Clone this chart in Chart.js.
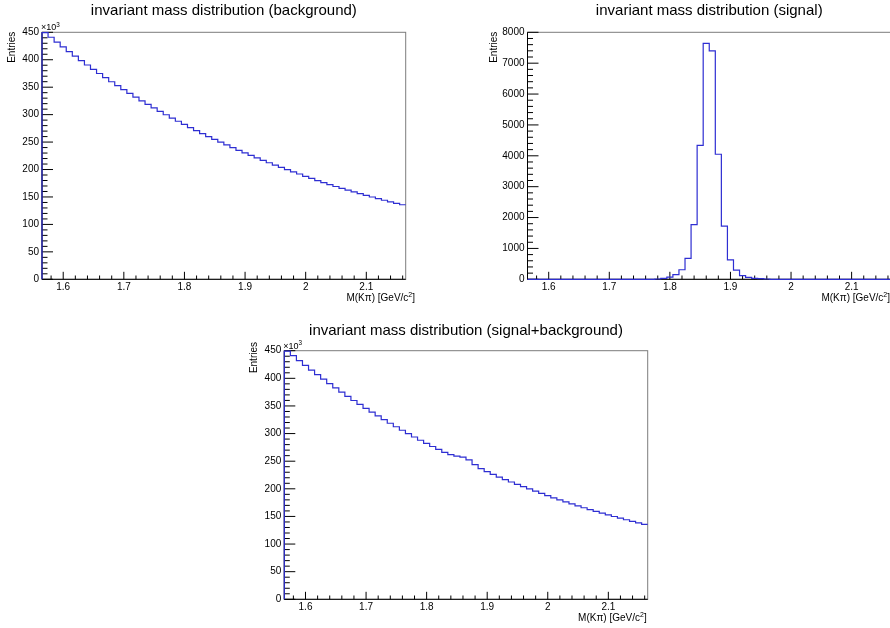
<!DOCTYPE html>
<html>
<head>
<meta charset="utf-8">
<title>invariant mass distribution</title>
<script src="https://cdn.jsdelivr.net/npm/chart.js@4.4.1/dist/chart.umd.min.js"></script>
<style>
  html, body { margin: 0; padding: 0; background: #fff; overflow: hidden; }
  body { width: 890px; height: 628px; position: relative; }
  .pad { position: absolute; }
</style>
</head>
<body>
<div class="pad" style="left:0;top:0;width:445px;height:310px"><canvas id="bgChart"></canvas></div>
<div class="pad" style="left:445px;top:0;width:450px;height:310px"><canvas id="sigChart"></canvas></div>
<div class="pad" style="left:230px;top:315px;width:440px;height:313px"><canvas id="sumChart"></canvas></div>

<script>
// bin centres of M(Kpi), 0.01 GeV/c^2 wide bins
const binCenters = [
    1.57, 1.58, 1.59, 1.60, 1.61, 1.62, 1.63, 1.64, 1.65, 1.66,
    1.67, 1.68, 1.69, 1.70, 1.71, 1.72, 1.73, 1.74, 1.75, 1.76,
    1.77, 1.78, 1.79, 1.80, 1.81, 1.82, 1.83, 1.84, 1.85, 1.86,
    1.87, 1.88, 1.89, 1.90, 1.91, 1.92, 1.93, 1.94, 1.95, 1.96,
    1.97, 1.98, 1.99, 2.00, 2.01, 2.02, 2.03, 2.04, 2.05, 2.06,
    2.07, 2.08, 2.09, 2.10, 2.11, 2.12, 2.13, 2.14, 2.15, 2.16
];

const background = [
    449400, 441000, 432100, 423400, 414900, 406600, 398400, 390400, 382600, 374900,
    367300, 359900, 352700, 345600, 338700, 331900, 325200, 318700, 312300, 306000,
    299800, 293800, 287900, 282100, 276400, 270900, 265400, 260100, 254900, 249800,
    244800, 239800, 235000, 230300, 225700, 221100, 216700, 212300, 208100, 203900,
    199800, 195800, 191800, 187600, 183700, 179900, 176200, 172600, 169100, 165700,
    162400, 159200, 156000, 152900, 149900, 146900, 144000, 141200, 138500, 135800
];

const signal = [
    0, 0, 0, 0, 0, 0, 0, 0, 0, 0,
    0, 0, 0, 0, 0, 0, 0, 0, 0, 0,
    0, 10, 30, 70, 150, 310, 680, 1770, 4340, 7640,
    7400, 4050, 1720, 630, 300, 120, 60, 30, 20, 10,
    0, 0, 0, 0, 0, 0, 0, 0, 0, 0,
    0, 0, 0, 0, 0, 0, 0, 0, 0, 0
];

const signalPlusBackground = [
    449400, 441000, 432100, 423400, 414900, 406600, 398400, 390400, 382600, 374900,
    367300, 359900, 352700, 345600, 338700, 331900, 325200, 318700, 312300, 306000,
    299800, 293810, 287930, 282170, 276550, 271210, 266080, 261870, 259240, 257440,
    252200, 243850, 236720, 230930, 226000, 221220, 216760, 212330, 208120, 203910,
    199800, 195800, 191800, 187600, 183700, 179900, 176200, 172600, 169100, 165700,
    162400, 159200, 156000, 152900, 149900, 146900, 144000, 141200, 138500, 135800
];

const massTicks = [1.6, 1.7, 1.8, 1.9, 2.0, 2.1];
const massTickLabels = ['1.6', '1.7', '1.8', '1.9', '2', '2.1'];
const entriesTicks = [0, 50000, 100000, 150000, 200000, 250000, 300000, 350000, 400000, 450000];
const entriesTickLabels = ['0', '50', '100', '150', '200', '250', '300', '350', '400', '450'];
const signalTicks = [0, 1000, 2000, 3000, 4000, 5000, 6000, 7000, 8000];
const signalTickLabels = ['0', '1000', '2000', '3000', '4000', '5000', '6000', '7000', '8000'];

const binWidth = 0.01;
const FONT = '"Liberation Sans", Arial, Helvetica, sans-serif';

// histogram outline: up from zero at the first edge, then step through the bins
const toSteps = (values) => {
    const pts = [{ x: binCenters[0] - binWidth / 2, y: 0 }];
    values.forEach((v, i) => {
        pts.push({ x: binCenters[i] - binWidth / 2, y: v });
        pts.push({ x: binCenters[i] + binWidth / 2, y: v });
    });
    return pts;
};

// text with one superscript part
const drawSup = (ctx, base, sup, tail, x, y, size, align) => {
    ctx.font = `${size}px ${FONT}`;
    const w1 = ctx.measureText(base).width;
    const w3 = ctx.measureText(tail).width;
    ctx.font = `${size * 0.7}px ${FONT}`;
    const w2 = ctx.measureText(sup).width;
    let left = x;
    if (align === 'right') left = x - (w1 + w2 + w3);
    ctx.textAlign = 'left';
    ctx.textBaseline = 'alphabetic';
    ctx.font = `${size}px ${FONT}`;
    ctx.fillText(base, left, y);
    ctx.font = `${size * 0.7}px ${FONT}`;
    ctx.fillText(sup, left + w1, y - size * 0.38);
    ctx.font = `${size}px ${FONT}`;
    ctx.fillText(tail, left + w1 + w2, y);
};

// ROOT-like frame: inward ticks, labels, titles
const makeRootAxes = (cfg) => ({
    id: 'rootAxes',
    beforeDatasetsDraw(chart) {
        const { ctx, chartArea: a, scales: { x, y } } = chart;
        ctx.save();
        ctx.lineWidth = 1;
        ctx.strokeStyle = '#7c7c7c';
        ctx.strokeRect(a.left, a.top, a.right - a.left, a.bottom - a.top);

        ctx.strokeStyle = '#000';
        ctx.beginPath();
        ctx.moveTo(a.left, a.top);
        ctx.lineTo(a.left, a.bottom);
        ctx.lineTo(a.right, a.bottom);

        const xs = (massTicks[1] - massTicks[0]) / 5;
        for (let k = -5; k <= (massTicks.length - 1) * 5 + 5; k++) {
            const v = massTicks[0] + k * xs;
            if (v < x.min - 1e-9 || v > x.max + 1e-9) continue;
            const px = x.getPixelForValue(v);
            const len = k % 5 === 0 ? 7.5 : 3.8;
            ctx.moveTo(px, a.bottom);
            ctx.lineTo(px, a.bottom - len);
        }

        const yt = cfg.yTicks;
        const ys = (yt[1] - yt[0]) / 5;
        for (let k = 0; k <= (yt.length - 1) * 5; k++) {
            const py = y.getPixelForValue(yt[0] + k * ys);
            const len = k % 5 === 0 ? 11 : 5.5;
            ctx.moveTo(a.left, py);
            ctx.lineTo(a.left + len, py);
        }
        ctx.stroke();
        ctx.restore();
    },
    afterDraw(chart) {
        const { ctx, chartArea: a, scales: { x, y } } = chart;
        ctx.save();
        ctx.fillStyle = '#000';

        // tick labels
        ctx.font = `10px ${FONT}`;
        ctx.textAlign = 'right';
        ctx.textBaseline = 'middle';
        cfg.yTicks.forEach((v, i) => {
            ctx.fillText(cfg.yLabels[i], a.left - 3, y.getPixelForValue(v));
        });
        ctx.textAlign = 'center';
        massTicks.forEach((v, i) => {
            ctx.fillText(massTickLabels[i], x.getPixelForValue(v), a.bottom + 7.5);
        });

        // x axis title
        drawSup(ctx, 'M(K\u03c0) [GeV/c', '2', ']', a.right + cfg.xTitleShift, a.bottom + 21.5, 10, 'right');

        // y axis title
        ctx.save();
        ctx.translate(a.left + cfg.yTitleX, a.top + cfg.yTitleTop);
        ctx.rotate(-Math.PI / 2);
        ctx.font = `10px ${FONT}`;
        ctx.textAlign = 'right';
        ctx.textBaseline = 'middle';
        ctx.fillText('Entries', 0, 0);
        ctx.restore();

        if (cfg.exponent) {
            drawSup(ctx, '\u00d710', '3', '', a.left - 1, a.top - 2, 9, 'left');
        }

        // pad title
        ctx.font = `15px ${FONT}`;
        ctx.textAlign = 'center';
        ctx.textBaseline = 'middle';
        ctx.fillText(cfg.title, (a.left + a.right) / 2, a.top + cfg.titleDy);
        ctx.restore();
    }
});

const makeHist = (id, values, cfg) => {
    const el = document.getElementById(id);
    return new Chart(el, {
        type: 'line',
        data: {
            datasets: [{
                data: toSteps(values),
                borderColor: '#2e2ed2',
                borderWidth: 1.2,
                pointRadius: 0,
                tension: 0,
                fill: false,
                clip: false
            }]
        },
        options: {
            responsive: true,
            maintainAspectRatio: false,
            animation: false,
            events: [],
            parsing: false,
            layout: { padding: cfg.padding },
            plugins: {
                legend: { display: false },
                tooltip: { enabled: false }
            },
            scales: {
                x: { type: 'linear', min: 1.565, max: 2.165, display: false },
                y: { type: 'linear', min: 0, max: cfg.yMax, display: false }
            }
        },
        plugins: [makeRootAxes(cfg)]
    });
};

makeHist('bgChart', background, {
    title: 'invariant mass distribution (background)',
    padding: { left: 42, right: 39.3, top: 32.3, bottom: 30.7 },
    yMax: 450000,
    yTicks: entriesTicks,
    yLabels: entriesTickLabels,
    exponent: true,
    xTitleShift: 9.3,
    yTitleX: -29.5,
    yTitleTop: -0.6,
    titleDy: -21
});

makeHist('sigChart', signal, {
    title: 'invariant mass distribution (signal)',
    padding: { left: 82.5, right: 4, top: 32.3, bottom: 30.7 },
    yMax: 8000,
    yTicks: signalTicks,
    yLabels: signalTickLabels,
    exponent: false,
    xTitleShift: -1,
    yTitleX: -33.5,
    yTitleTop: -0.6,
    titleDy: -21
});

makeHist('sumChart', signalPlusBackground, {
    title: 'invariant mass distribution (signal+background)',
    padding: { left: 54.3, right: 22.3, top: 35.7, bottom: 28.7 },
    yMax: 450000,
    yTicks: entriesTicks,
    yLabels: entriesTickLabels,
    exponent: true,
    xTitleShift: -1,
    yTitleX: -30,
    yTitleTop: -8.7,
    titleDy: -19.5
});
</script>
</body>
</html>
